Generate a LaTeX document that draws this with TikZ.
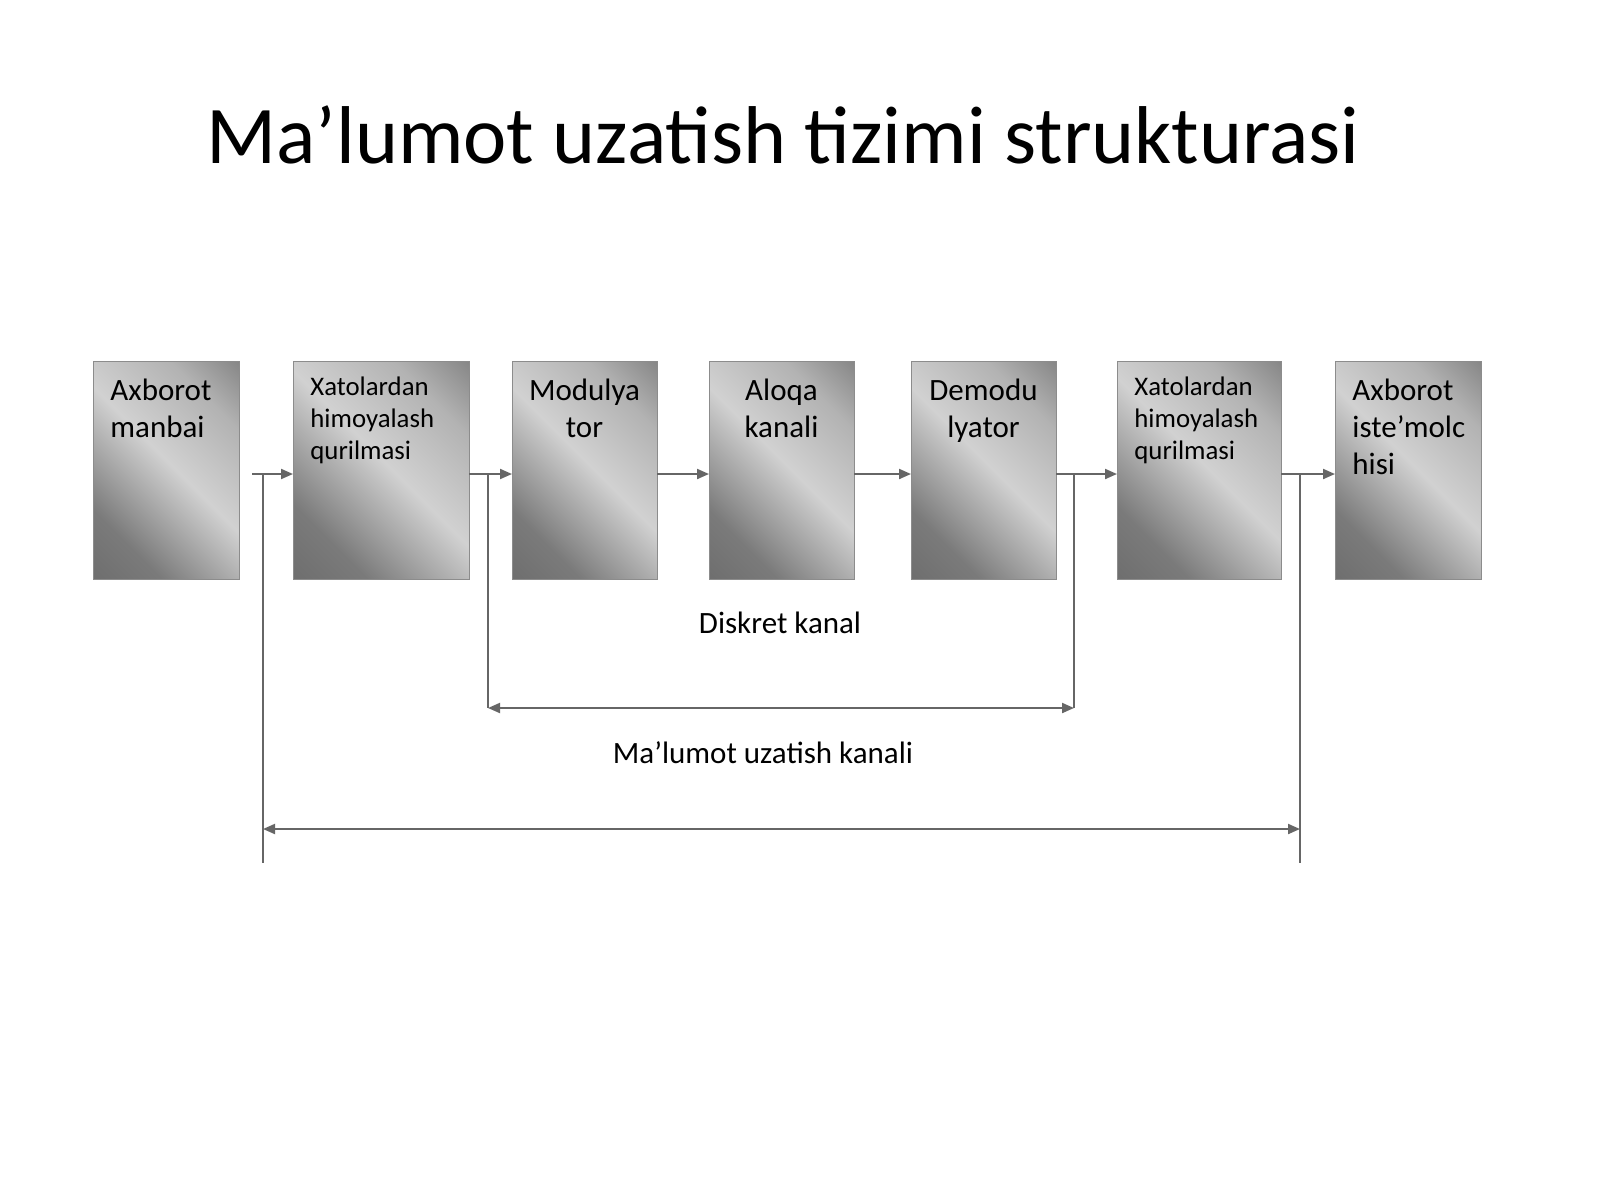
\documentclass[tikz,border=0pt]{standalone}
\usepackage{fontspec}
\setmainfont{Carlito}
\usetikzlibrary{arrows.meta,positioning}
\pgfdeclarehorizontalshading{metal}{100bp}{color(0bp)=(black!62); color(28bp)=(black!52); color(52bp)=(black!18); color(72bp)=(black!30); color(100bp)=(black!66)}

\begin{document}
\begin{tikzpicture}[
    x=0.5pt, y=-0.5pt, % 1 unit = 1 px of the slide
    >={Triangle[length=6pt,width=5pt]},
    % styles
    block/.style={
        draw=black!45,
        line width=0.4pt,
        shading=metal,
        shading angle=45,
        minimum height=109pt,
        inner sep=0pt,
        outer sep=0pt
    },
    bigtext/.style={font=\fontsize{15.5pt}{18.5pt}\selectfont, inner sep=0pt},
    smalltext/.style={font=\fontsize{13.4pt}{16.2pt}\selectfont, inner sep=0pt, align=left},
    flow/.style={->, draw=black!60, line width=1pt, transform canvas={yshift=-2pt}},
    wire/.style={draw=black!60, line width=1pt},
    span/.style={<->, draw=black!60, line width=1pt},
    caption/.style={font=\fontsize{15.5pt}{18pt}\selectfont, anchor=base}
]
    \useasboundingbox[fill=white] (0,0) rectangle (1600,1200);

    % --- 1. Title ---
    \node[font=\fontsize{41pt}{48pt}\selectfont, anchor=base] (title) at (783,163) {Ma’lumot uzatish tizimi strukturasi};

    % --- 2. Blocks ---
    \node[block, minimum width=73pt] (src) at (166,470) {};
    \node[block, minimum width=88pt, right=27pt of src] (fec1) {};
    \node[block, minimum width=72.5pt, right=21.5pt of fec1] (mod) {};
    \node[block, minimum width=72.5pt, right=26pt of mod] (chan) {};
    \node[block, minimum width=72.5pt, right=28.5pt of chan] (demod) {};
    \node[block, minimum width=82pt, right=30.5pt of demod] (fec2) {};
    \node[block, minimum width=73pt, right=27pt of fec2] (sink) {};

    % texts inside the blocks (text width -> first line is the baseline)
    \node[bigtext, text width=62pt, align=left, anchor=base west, xshift=8.5pt, yshift=-19.5pt] (src-t) at (src.north west) {Axborot\\manbai};
    \node[smalltext, text width=78pt, anchor=base west, xshift=8.5pt, yshift=-17pt] (fec1-t) at (fec1.north west) {Xatolardan\\himoyalash\\qurilmasi};
    \node[bigtext, text width=72.5pt, align=center, anchor=base, yshift=-19.5pt] (mod-t) at (mod.north) {Modulya\\tor};
    \node[bigtext, text width=72.5pt, align=center, anchor=base, yshift=-19.5pt] (chan-t) at (chan.north) {Aloqa\\kanali};
    \node[bigtext, text width=72.5pt, align=center, anchor=base, yshift=-19.5pt] (demod-t) at (demod.north) {Demodu\\lyator};
    \node[smalltext, text width=72pt, anchor=base west, xshift=8.5pt, yshift=-17pt] (fec2-t) at (fec2.north west) {Xatolardan\\himoyalash\\qurilmasi};
    \node[bigtext, text width=64pt, align=left, anchor=base west, xshift=8.5pt, yshift=-19.5pt] (sink-t) at (sink.north west) {Axborot\\iste’molc\\hisi};

    % --- 3. Arrows between blocks ---
    \draw[flow, shorten <=6.5pt] (src) -- (fec1);
    \draw[flow] (fec1) -- (mod);
    \draw[flow] (mod) -- (chan);
    \draw[flow] (chan) -- (demod);
    \draw[flow] (demod) -- (fec2);
    \draw[flow] (fec2) -- (sink);

    % --- 4. Channel spans ---
    \coordinate (outL) at (263,474);
    \coordinate (inL) at (488,474);
    \coordinate (inR) at (1074,474);
    \coordinate (outR) at (1300,474);
    \coordinate (dk) at (0,708);
    \coordinate (mk) at (0,829);
    \coordinate (bot) at (0,863);

    \draw[wire] (inL) -- (inL |- dk);
    \draw[wire] (inR) -- (inR |- dk);
    \draw[span] (inL |- dk) -- (inR |- dk);
    \node[caption] (dk-t) at (780,633) {Diskret kanal};

    \draw[wire] (outL) -- (outL |- bot);
    \draw[wire] (outR) -- (outR |- bot);
    \draw[span] (outL |- mk) -- (outR |- mk);
    \node[caption] (mk-t) at (763,763) {Ma’lumot uzatish kanali};

\end{tikzpicture}
\end{document}
